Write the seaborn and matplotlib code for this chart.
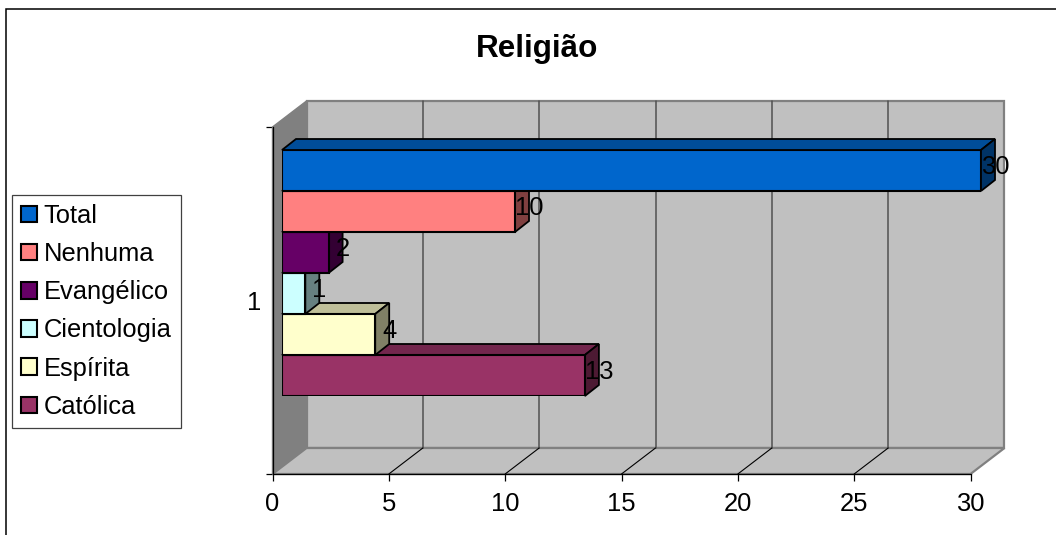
import pandas as pd
import matplotlib
matplotlib.use('Agg')
import matplotlib.pyplot as plt
from matplotlib.patches import Polygon, Rectangle
from matplotlib.colors import to_rgb
import seaborn as sns

# values
religioes = ['Total', 'Nenhuma', 'Evangélico', 'Cientologia', 'Espírita', 'Católica']
valores = [30, 10, 2, 1, 4, 13]
cores = ['#0066CC', '#FF8080', '#660066', '#CCFFFF', '#FFFFCC', '#993366']
xticks = [0, 5, 10, 15, 20, 25, 30]

W, H = 1056, 535
FS = 18.4

sns.set_theme(style='white')
plt.rcParams['font.family'] = ['Liberation Sans', 'DejaVu Sans']
plt.rcParams['text.color'] = 'black'


def px_axes(fig, left, top, right, bottom):
    return fig.add_axes([left/W, 1-bottom/H, (right-left)/W, (bottom-top)/H])


def darker(c, f):
    return tuple(v*f for v in to_rgb(c))


fig = plt.figure(figsize=(W/100, H/100), dpi=100, facecolor='white')
# chart border, runs off the right and bottom of the picture
fig.patches.append(Rectangle((5.5/W, -0.02), 1.02, 1-8.5/H+0.02, transform=fig.transFigure,
                             fc='white', ec='black', lw=1.1, zorder=-5))

# front plane of the chart, holds the axis and the walls
ax = px_axes(fig, 272.5, 127, 970.5, 474)
ax.set_xlim(0, 30)
ax.set_ylim(0, 1)
ax.patch.set_visible(False)
wall_dx = 34/698*30
wall_dy = 26/347

ax.add_patch(Polygon([(wall_dx, wall_dy), (30+wall_dx, wall_dy), (30+wall_dx, 1+wall_dy), (wall_dx, 1+wall_dy)],
                     fc='#C0C0C0', ec='#808080', lw=1.6, clip_on=False, zorder=1))
ax.add_patch(Polygon([(0, 0), (wall_dx, wall_dy), (wall_dx, 1+wall_dy), (0, 1)],
                     fc='#808080', ec='#808080', lw=1, clip_on=False, zorder=1))
ax.add_patch(Polygon([(0, 0), (30, 0), (30+wall_dx, wall_dy), (wall_dx, wall_dy)],
                     fc='#C0C0C0', ec='#808080', lw=1.6, clip_on=False, zorder=1))
for t in xticks[1:-1]:
    ax.plot([t+wall_dx, t+wall_dx], [wall_dy, 1+wall_dy], color='#505050', lw=1.1, clip_on=False, zorder=1.5)
    ax.plot([t, t+wall_dx], [0, wall_dy], color='black', lw=0.8, clip_on=False, zorder=1.5)

ax.set_xticks(xticks)
ax.set_yticks([0, 1])
ax.set_yticklabels(['', ''])
ax.set_yticks([0.5], minor=True)
ax.set_yticklabels(['1'], minor=True)
ax.tick_params(axis='x', length=5, width=0.9, color='black', labelsize=FS, pad=8, labelcolor='black', bottom=True)
ax.tick_params(axis='y', which='major', length=5, width=0.9, color='black', left=True)
ax.tick_params(axis='y', which='minor', length=0, labelsize=FS, pad=8, labelcolor='black')
for s in ['top', 'right']:
    ax.spines[s].set_visible(False)
for s in ['left', 'bottom']:
    ax.spines[s].set_color('black')
    ax.spines[s].set_linewidth(0.9)
    ax.spines[s].set_zorder(2)

# bars sit a little inside the depth of the chart
df = pd.DataFrame({'religiao': religioes, 'valor': valores})
axb = px_axes(fig, 282, 150, 981, 396)
axb.patch.set_visible(False)
sns.barplot(data=df, x='valor', y='religiao', hue='religiao', hue_order=religioes, palette=cores,
            dodge=False, width=1, saturation=1, edgecolor='black', linewidth=1.5, ax=axb, legend=True)
axb.set_xlim(0, 30)
axb.set_ylim(5.5, -0.5)
bar_dx = 14/699*30
bar_dy = 11/41

for i, (nome, v, c) in enumerate(zip(religioes, valores, cores)):
    # lower bars are painted first, the one above covers its top face
    z = 10 - i
    topo, base = i-0.5, i+0.5
    axb.add_patch(Polygon([(0, topo), (v, topo), (v+bar_dx, topo-bar_dy), (bar_dx, topo-bar_dy)],
                          fc=darker(c, 0.75), ec='black', lw=1.3, clip_on=False, zorder=z))
    axb.add_patch(Polygon([(v, topo), (v+bar_dx, topo-bar_dy), (v+bar_dx, base-bar_dy), (v, base)],
                          fc=darker(c, 0.5), ec='black', lw=1.3, clip_on=False, zorder=z))
    axb.containers[i][0].set_zorder(z+0.5)
    axb.text(v+bar_dx, i-0.09, str(v), ha='center', va='center', fontsize=FS, color='black', zorder=20, clip_on=False)

sns.move_legend(axb, loc='upper left', bbox_to_anchor=(12/W, 1-195/H), bbox_transform=fig.transFigure,
                title=None, fontsize=FS, frameon=True, fancybox=False, framealpha=1, edgecolor='#404040',
                handlelength=0.625, handleheight=0.625, handletextpad=0.27, labelspacing=0.555,
                borderpad=0.35, borderaxespad=0)
axb.get_legend().get_frame().set_linewidth(0.9)
axb.get_legend().set_zorder(30)
axb.axis('off')

fig.text(537/W, 1-49/H, 'Religião', ha='center', va='center', fontsize=22.6, fontweight='bold', color='black')

fig.savefig('out.png', dpi=100)
